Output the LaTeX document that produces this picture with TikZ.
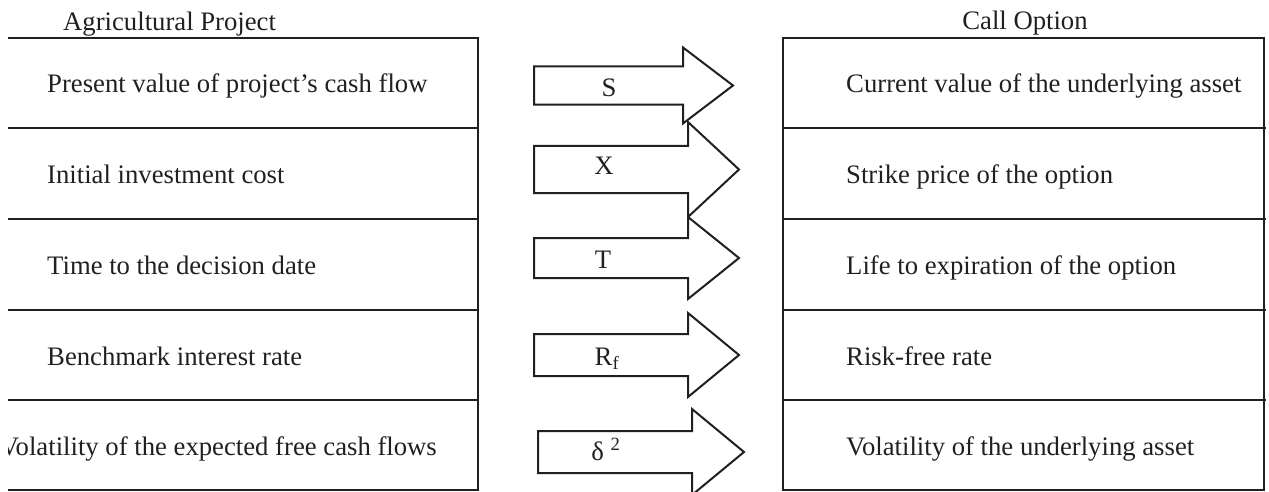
\documentclass[tikz,border=0pt]{standalone}
\usepackage{fontspec}
\setmainfont{Liberation Serif}
\definecolor{ink}{RGB}{35,31,32}
\tikzset{
  tablerule/.style={draw=ink, line width=2.8pt},
  blockarrow/.style={draw=ink, fill=white, line width=2pt, line join=miter},
  celltext/.style={anchor=base west, inner sep=0pt, text=ink},
  heading/.style={anchor=base, inner sep=0pt, text=ink},
  arrowlabel/.style={anchor=base, inner sep=0pt, text=ink},
}
% block arrow: left x, head base x, tip x, centre y, half body height, half head height
\newcommand{\mapArrow}[6]{%
  \draw[blockarrow] (#1,#4-#5) -- (#2,#4-#5) -- (#2,#4-#6) -- (#3,#4)
    -- (#2,#4+#6) -- (#2,#4+#5) -- (#1,#4+#5) -- cycle;}
\begin{document}
\begin{tikzpicture}[x=1pt, y=-1pt, font=\fontsize{26.7}{32}\selectfont]
\path[use as bounding box] (0,0) rectangle (1269,492);
\begin{scope}
\clip (8,0) rectangle (1269,492);

% left table: the project side
\draw[tablerule] (-30,38) rectangle (478,490);
\foreach \yy in {128,219,310,400}
  \draw[tablerule] (-30,\yy) -- (478,\yy);

% right table: the option side
\draw[tablerule] (783,38) rectangle (1264,490);
\foreach \yy in {128,219,310,400}
  \draw[tablerule] (783,\yy) -- (1265.5,\yy);

% headings
\node[heading, anchor=base west] (hleft) at (63,31) {Agricultural Project};
\node[heading] (hright) at (1025,30) {Call Option};

% project parameters
\node[celltext] (p1) at (47,93) {Present value of project’s cash flow};
\node[celltext] (p2) at (47,183.5) {Initial investment cost};
\node[celltext] (p3) at (47,274.5) {Time to the decision date};
\node[celltext] (p4) at (47,365) {Benchmark interest rate};
\node[celltext, anchor=base east] (p5) at (437,455) {Volatility of the expected free cash flows};

% option parameters
\node[celltext] (o1) at (846,93) {Current value of the underlying asset};
\node[celltext] (o2) at (846,183.5) {Strike price of the option};
\node[celltext] (o3) at (846,274.5) {Life to expiration of the option};
\node[celltext] (o4) at (846,365) {Risk-free rate};
\node[celltext] (o5) at (846,455) {Volatility of the underlying asset};

% mapping arrows
\mapArrow{534}{683}{733}{85.5}{19.2}{38}
\mapArrow{534}{688}{739}{169.5}{23.5}{47.5}
\mapArrow{534}{688}{739}{258}{20}{41}
\mapArrow{534}{688}{739}{355}{21}{42}
\mapArrow{538}{692}{744}{452}{21}{43}

\node[arrowlabel] (aS) at (609,97) {S};
\node[arrowlabel] (aX) at (604,175) {X};
\node[arrowlabel] (aT) at (603,268) {T};
\node[arrowlabel] (aR) at (607,365) {R\textsubscript{f}};
\node[arrowlabel] (aD) at (606,460) {δ \textsuperscript{2}};
\end{scope}
\end{tikzpicture}
\end{document}
